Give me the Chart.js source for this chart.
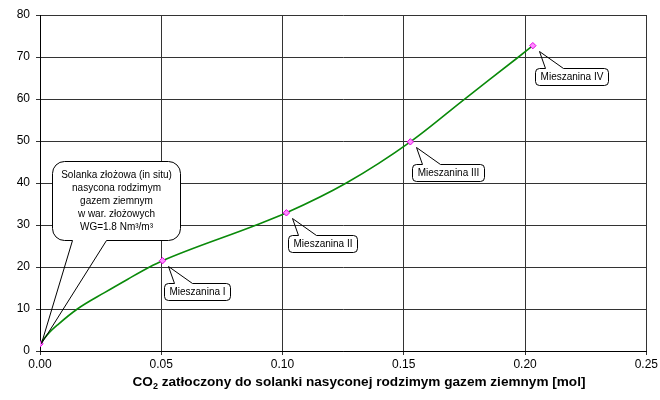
<!DOCTYPE html>
<html>
<head>
<meta charset="utf-8">
<script src="https://cdn.jsdelivr.net/npm/chart.js@4"></script>
<style>
  html, body { margin: 0; padding: 0; background: #fff; }
</style>
</head>
<body>
<canvas id="c" width="660" height="400"></canvas>
<script>
// Measured mixtures: injected CO2 [mol] vs. y value
const xValues = [0, 0.0505, 0.1016, 0.1527, 0.2032];
const yValues = [1.7, 21.5, 32.9, 49.8, 72.7];
const mixtureLabels = ['Mieszanina I', 'Mieszanina II', 'Mieszanina III', 'Mieszanina IV'];
const brineLabel = ['Solanka złożowa (in situ)', 'nasycona rodzimym', 'gazem ziemnym', 'w war. złożowych', 'WG=1.8 Nm³/m³'];

// Fitted trend curve through the mixtures
const curveX = [0, 0.0035, 0.0074, 0.0154, 0.0266, 0.0362, 0.0452, 0.0505, 0.0892, 0.1016, 0.1263, 0.1527, 0.1747, 0.1973, 0.2032];
const curveY = [1.7, 4.2, 6.3, 10, 13.9, 17.1, 20, 21.5, 30, 32.9, 40, 49.8, 59.8, 70, 72.7];

const xTicks = [0, 0.05, 0.10, 0.15, 0.20, 0.25];
const yTicks = [0, 10, 20, 30, 40, 50, 60, 70, 80];

const axisTitleParts = ['CO', '2', ' zatłoczony do solanki nasyconej rodzimym gazem ziemnym [mol]'];

const FONT = '"Liberation Sans", Arial, sans-serif';

function boxPath(ctx, l, t, w, h, r, side, b1, b2, ax, ay) {
  // outline of a rounded box whose border opens into a pointer
  ctx.beginPath();
  if (side === 'top') {
    ctx.moveTo(b2, t);
    ctx.lineTo(l + w - r, t);
    ctx.arcTo(l + w, t, l + w, t + r, r);
    ctx.lineTo(l + w, t + h - r);
    ctx.arcTo(l + w, t + h, l + w - r, t + h, r);
    ctx.lineTo(l + r, t + h);
    ctx.arcTo(l, t + h, l, t + h - r, r);
    ctx.lineTo(l, t + r);
    ctx.arcTo(l, t, l + r, t, r);
    ctx.lineTo(b1, t);
    ctx.lineTo(ax, ay);
    ctx.lineTo(b2, t);
  } else {
    ctx.moveTo(b2, t + h);
    ctx.lineTo(l + w - r, t + h);
    ctx.arcTo(l + w, t + h, l + w, t + h - r, r);
    ctx.lineTo(l + w, t + r);
    ctx.arcTo(l + w, t, l + w - r, t, r);
    ctx.lineTo(l + r, t);
    ctx.arcTo(l, t, l, t + r, r);
    ctx.lineTo(l, t + h - r);
    ctx.arcTo(l, t + h, l + r, t + h, r);
    ctx.lineTo(b1, t + h);
    ctx.lineTo(ax, ay);
    ctx.lineTo(b2, t + h);
  }
  ctx.stroke();
}

function roundRectFill(ctx, l, t, w, h, r) {
  ctx.beginPath();
  ctx.moveTo(l + r, t);
  ctx.arcTo(l + w, t, l + w, t + h, r);
  ctx.arcTo(l + w, t + h, l, t + h, r);
  ctx.arcTo(l, t + h, l, t, r);
  ctx.arcTo(l, t, l + w, t, r);
  ctx.closePath();
  ctx.fillStyle = '#fff';
  ctx.fill();
}

const calloutPlugin = {
  id: 'callouts',
  afterDatasetsDraw(chart) {
    const ctx = chart.ctx;
    const xs = chart.scales.x, ys = chart.scales.y;
    ctx.save();
    ctx.lineWidth = 1;
    ctx.strokeStyle = '#000';
    ctx.font = '10px ' + FONT;
    ctx.textAlign = 'center';
    ctx.textBaseline = 'middle';

    // mixture callouts, below-right of each point
    mixtureLabels.forEach((txt, k) => {
      const i = k + 1;
      const px = Math.round(xs.getPixelForValue(xValues[i])) + 0.5;
      const py = Math.round(ys.getPixelForValue(yValues[i])) + 0.5;
      const w = Math.round(ctx.measureText(txt).width + 10);
      const h = 17, l = px + 2, t = py + 22;
      roundRectFill(ctx, l, t, w, h, 4);
      boxPath(ctx, l, t, w, h, 4, 'top', l + 10, l + 28, px + 6, py + 5);
      ctx.fillStyle = '#000';
      ctx.fillText(txt, l + w / 2, t + h / 2 + 0.5);
    });

    // brine callout, above the first point
    const px = Math.round(xs.getPixelForValue(xValues[0])) + 0.5;
    const py = Math.round(ys.getPixelForValue(yValues[0])) + 0.5;
    const l = px + 12, t = py - 183, w = 128, h = 79;
    roundRectFill(ctx, l, t, w, h, 12);
    boxPath(ctx, l, t, w, h, 12, 'bottom', px + 32, px + 66, px + 1, py - 1);
    ctx.fillStyle = '#000';
    brineLabel.forEach((line, j) => {
      ctx.fillText(line, l + w / 2, t + 14 + j * 13);
    });

    // x-axis title with subscript
    const cx = 359, base = 386;
    ctx.textAlign = 'left';
    ctx.textBaseline = 'alphabetic';
    ctx.font = 'bold 13.6px ' + FONT;
    const w0 = ctx.measureText(axisTitleParts[0]).width;
    const w2 = ctx.measureText(axisTitleParts[2]).width;
    ctx.font = 'bold 9px ' + FONT;
    const w1 = ctx.measureText(axisTitleParts[1]).width;
    let x = cx - (w0 + w1 + w2) / 2;
    ctx.font = 'bold 13.6px ' + FONT;
    ctx.fillText(axisTitleParts[0], x, base);
    x += w0;
    ctx.font = 'bold 9px ' + FONT;
    ctx.fillText(axisTitleParts[1], x, base + 3);
    x += w1;
    ctx.font = 'bold 13.6px ' + FONT;
    ctx.fillText(axisTitleParts[2], x, base);
    ctx.restore();
  }
};

new Chart(document.getElementById('c'), {
  type: 'scatter',
  data: {
    datasets: [
      {
        data: curveX.map((x, i) => ({ x, y: curveY[i] })),
        showLine: true,
        borderColor: '#0a8a0a',
        borderWidth: 1.6,
        pointRadius: 0,
        cubicInterpolationMode: 'monotone',
        order: 2
      },
      {
        data: xValues.map((x, i) => ({ x, y: yValues[i] })),
        pointStyle: 'rectRot',
        pointRadius: 3.2,
        backgroundColor: '#ff8cff',
        borderColor: '#e600e6',
        borderWidth: 1,
        order: 1
      }
    ]
  },
  options: {
    responsive: false,
    animation: false,
    devicePixelRatio: 1,
    layout: { padding: { left: 0, right: 13, top: 15, bottom: 0 } },
    plugins: { legend: { display: false }, tooltip: { enabled: false } },
    scales: {
      x: {
        type: 'linear',
        min: 0,
        max: 0.25,
        afterBuildTicks: s => { s.ticks = xTicks.map(v => ({ value: v })); },
        afterFit: s => { s.height = 49; },
        grid: { color: '#333', lineWidth: 1, tickLength: 4, drawTicks: true },
        border: { color: '#000', width: 1 },
        ticks: {
          color: '#000',
          font: { family: FONT, size: 12 },
          padding: 2,
          maxRotation: 0,
          callback: v => Number(v).toFixed(2)
        }
      },
      y: {
        min: 0,
        max: 80,
        afterBuildTicks: s => { s.ticks = yTicks.map(v => ({ value: v })); },
        afterFit: s => { s.width = 40; },
        grid: { color: '#333', lineWidth: 1, tickLength: 4, drawTicks: true },
        border: { color: '#000', width: 1 },
        ticks: {
          color: '#000',
          font: { family: FONT, size: 12 },
          padding: 6,
          callback: v => String(v)
        }
      }
    }
  },
  plugins: [calloutPlugin]
});
</script>
</body>
</html>
